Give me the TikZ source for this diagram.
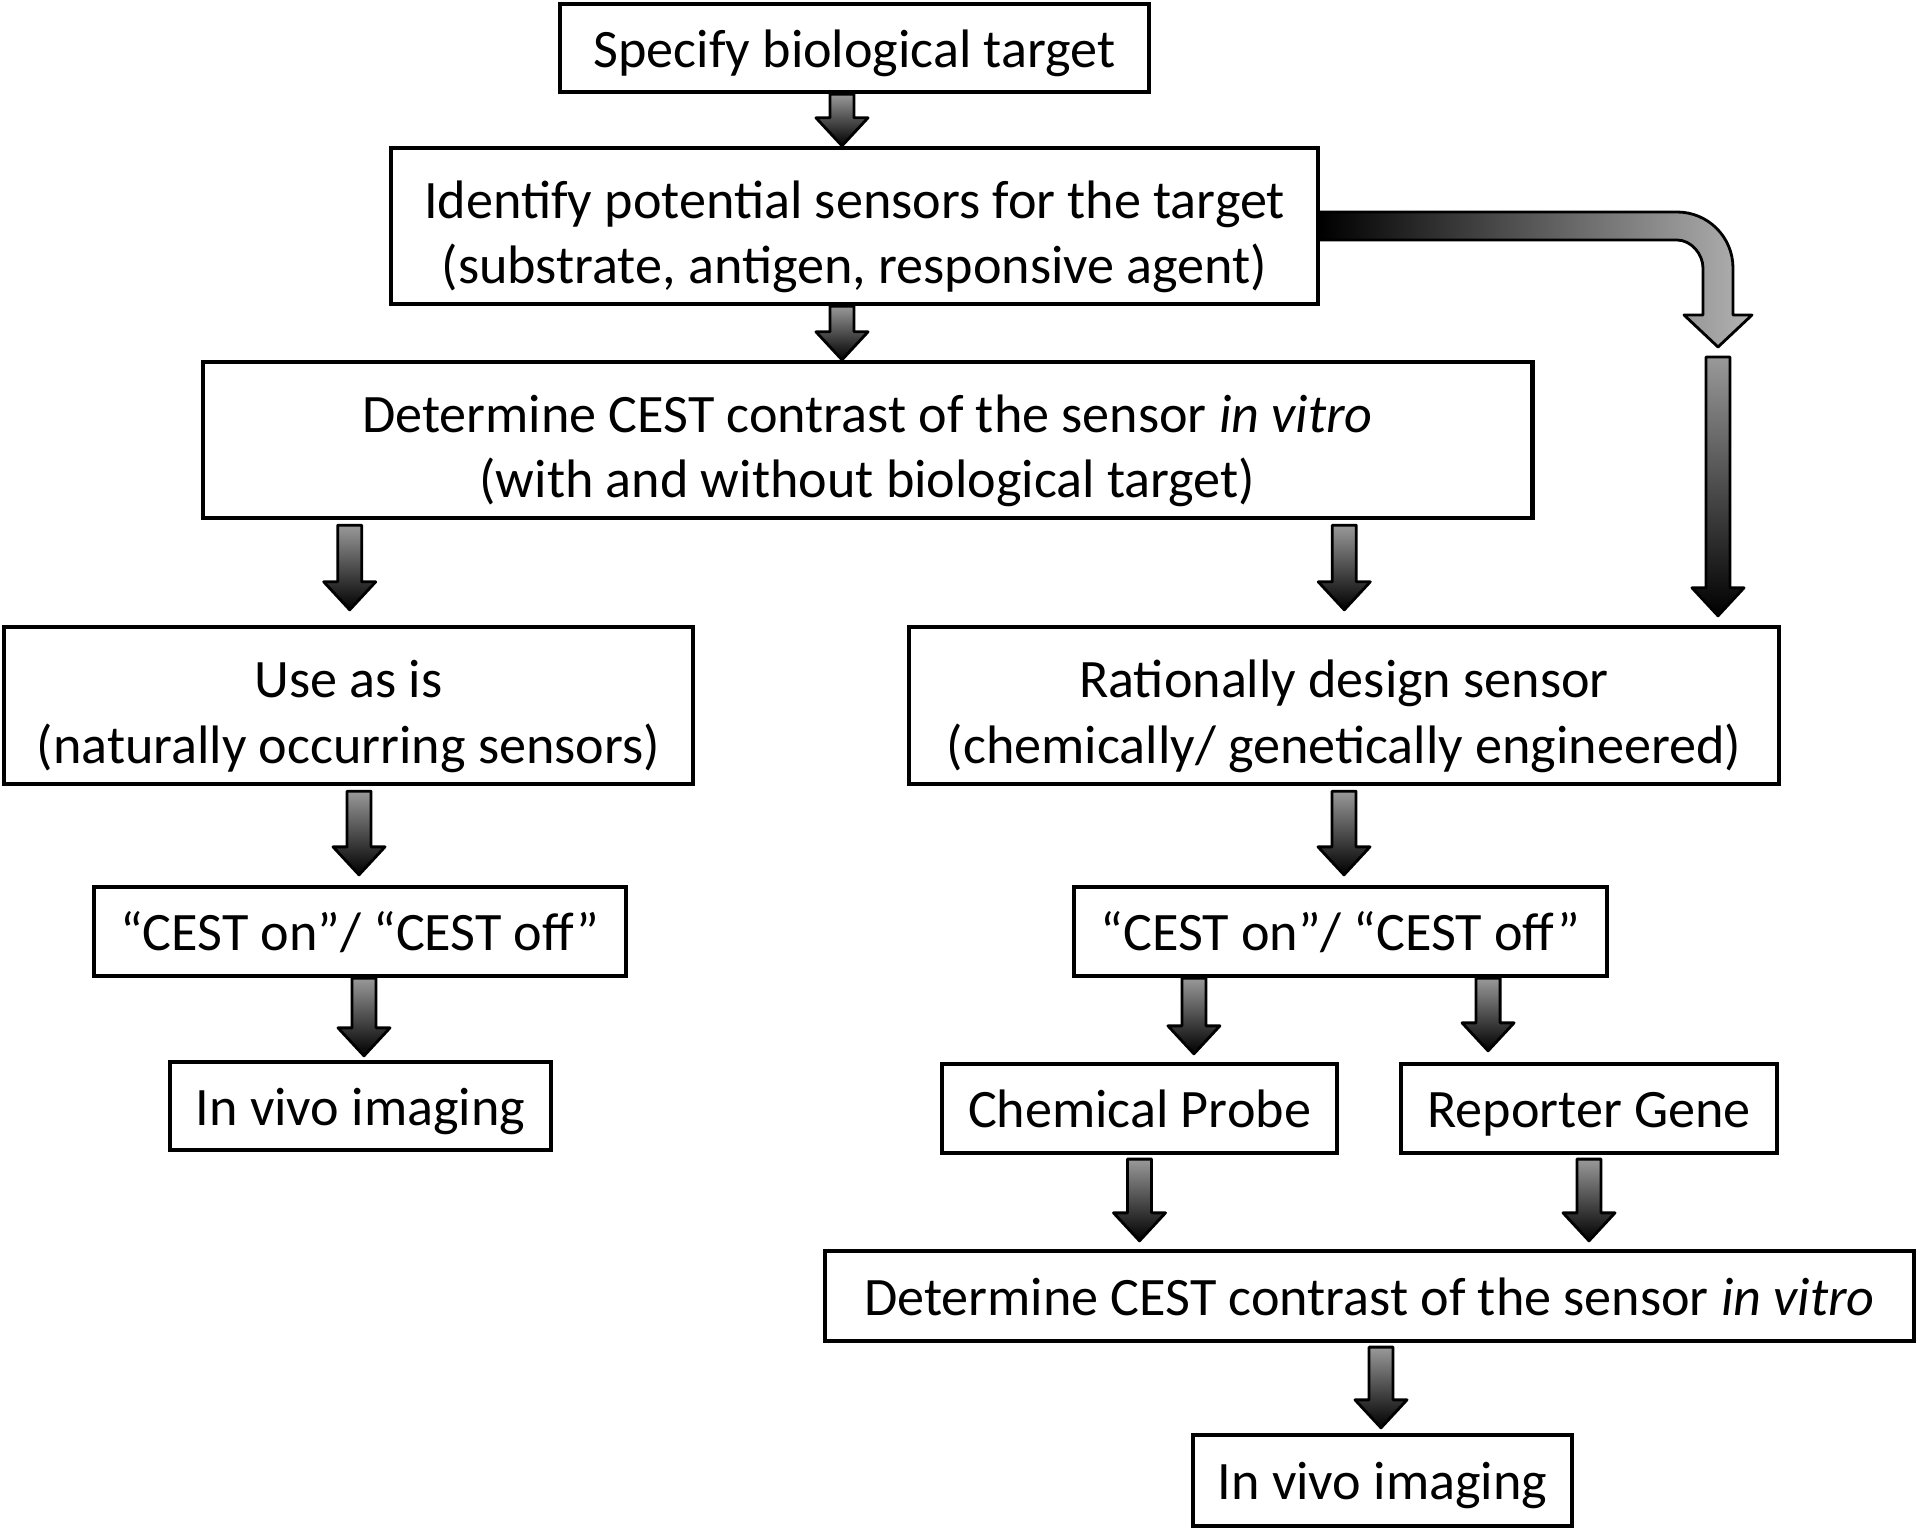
\documentclass[tikz,border=0pt]{standalone}
\usepackage{fontspec}
\setmainfont{Carlito}
\usetikzlibrary{calc}

% vertical block arrow, from the point #1 straight down to the height of #2
\newcommand{\barrow}[2]{%
  \path[blockarrow] let \p1=#1, \p2=#2 in
    (\x1-0.12cm,\y1) -- (\x1+0.12cm,\y1) -- (\x1+0.12cm,\y2+0.28cm)
    -- (\x1+0.26cm,\y2+0.28cm) -- (\x1,\y2) -- (\x1-0.26cm,\y2+0.28cm)
    -- (\x1-0.12cm,\y2+0.28cm) -- cycle;}
% pushes the first of two lines a bit down
\newcommand{\lineup}{\rule{0pt}{1.1em}}

\begin{document}
\begin{tikzpicture}[
x=0.01cm, y=-0.01cm,
box/.style={draw, line width=1.2pt, align=center, inner sep=0pt,
  font=\fontsize{15.4}{18.6}\selectfont},
onebox/.style={box, text height=14.2pt, text depth=3.2pt},
blockarrow/.style={draw=black, line width=0.8pt, line join=round,
  top color=black!40, bottom color=black},
bendarrow/.style={draw=black, line width=0.8pt, line join=round,
  left color=black, right color=black!30},
]
\useasboundingbox (0,0) rectangle (1920,1533);

\node[onebox, minimum width=5.89cm, minimum height=0.88cm] (b1) at (854.5,48) {Specify biological target};
\node[box, minimum width=9.27cm, minimum height=1.56cm] (b2) at (854.5,226) {\lineup Identify potential sensors for the target\\ (substrate, antigen, responsive agent)};
\node[box, minimum width=13.29cm, minimum height=1.56cm] (b3) at (867.5,440) {\lineup Determine CEST contrast of the sensor \textit{in vitro}\\(with and without biological target)};

\node[box, minimum width=6.89cm, minimum height=1.57cm] (b4) at (348.5,705.5) {\lineup Use as is\\(naturally occurring sensors)};
\node[box, minimum width=8.70cm, minimum height=1.57cm] (b5) at (1344,705.5) {\lineup Rationally design sensor\\(chemically/ genetically engineered)};

\node[onebox, minimum width=5.32cm, minimum height=0.89cm] (b6) at (360,931.5) {``CEST on''/ ``CEST off''};
\node[onebox, minimum width=3.81cm, minimum height=0.88cm] (b7) at (360.5,1106) {In vivo imaging};

\node[onebox, minimum width=5.33cm, minimum height=0.89cm] (b8) at (1340.5,931.5) {``CEST on''/ ``CEST off''};
\node[onebox, minimum width=3.95cm, minimum height=0.89cm] (b9) at (1139.5,1108.5) {Chemical Probe};
\node[onebox, minimum width=3.76cm, minimum height=0.89cm] (b10) at (1589,1108.5) {Reporter Gene};
\node[onebox, minimum width=10.89cm, minimum height=0.90cm] (b11) at (1369.5,1296) {Determine CEST contrast of the sensor \textit{in vitro}};
\node[onebox, minimum width=3.79cm, minimum height=0.91cm] (b12) at (1382.5,1480.5) {In vivo imaging};

\coordinate (split) at (1718,352);

% bent arrow to the right
\path[bendarrow] ([yshift=0.14cm]b2.east) -- (1677,212)
  .. controls (1708,212) and (1733,237) .. (1733,268) -- (1733,315)
  -- (1752,315) -- ([yshift=0.05cm]split) -- (1684,315) -- (1703,315) -- (1703,268)
  .. controls (1703,254) and (1691,240) .. (1677,240) -- ([yshift=-0.14cm]b2.east) -- cycle;

\barrow{([xshift=-0.125cm]b1.south)}{(b2.north)}
\barrow{([xshift=-0.125cm]b2.south)}{(b3.north)}
\barrow{([xshift=-5.175cm,yshift=-0.05cm]b3.south)}{([yshift=0.15cm]b4.north)}
\barrow{([xshift=4.765cm,yshift=-0.05cm]b3.south)}{([yshift=0.15cm]b5.north)}
\barrow{([yshift=-0.05cm]split)}{([yshift=0.09cm]b5.north)}

\barrow{([xshift=0.105cm,yshift=-0.05cm]b4.south)}{([yshift=0.10cm]b6.north)}
\barrow{([xshift=0.04cm]b6.south)}{([yshift=0.04cm]b7.north)}

\barrow{([yshift=-0.05cm]b5.south)}{([yshift=0.10cm]b8.north)}
\barrow{([xshift=-1.465cm]b8.south)}{([yshift=0.08cm]b9.north)}
\barrow{([xshift=1.475cm]b8.south)}{([yshift=0.11cm]b10.north)}
\barrow{([yshift=-0.04cm]b9.south)}{([yshift=0.08cm]b11.north)}
\barrow{([yshift=-0.04cm]b10.south)}{([yshift=0.08cm]b11.north)}
\barrow{([xshift=0.115cm,yshift=-0.04cm]b11.south)}{([yshift=0.05cm]b12.north)}

\end{tikzpicture}
\end{document}
